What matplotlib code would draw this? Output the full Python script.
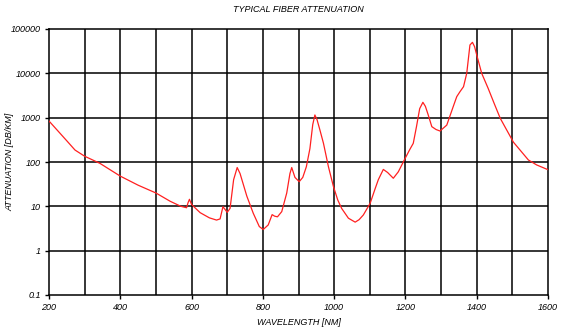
import matplotlib
matplotlib.use("Agg")
import matplotlib.pyplot as plt
from matplotlib.ticker import FixedLocator, FixedFormatter, NullLocator

title = "TYPICAL FIBER ATTENUATION"
xlabel = "WAVELENGTH [NM]"
ylabel = "ATTENUATION [DB/KM]"

wavelength = [200, 231, 250, 273, 300, 343, 400, 450, 500, 540, 570, 586, 590, 594, 600,
              624, 650, 670, 680, 688, 694, 700, 708, 718, 728, 736, 755, 773, 790, 801,
              815, 826, 833, 841, 853, 867, 876, 881, 890, 902, 912, 922, 932, 940, 946,
              952, 960, 970, 984, 998, 1010, 1021, 1040, 1059, 1070, 1082, 1101, 1115,
              1124, 1138, 1150, 1166, 1180, 1199, 1212, 1222, 1231, 1240, 1249, 1256,
              1264, 1274, 1286, 1297, 1316, 1334, 1344, 1353, 1363, 1372, 1381, 1388,
              1394, 1400, 1414, 1432, 1450, 1466, 1503, 1545, 1568, 1600]
attenuation = [840, 444, 300, 186, 135, 93, 48, 30, 20, 13, 10, 9.3, 12, 14.4, 11,
               7.2, 5.5, 4.9, 5.2, 9.8, 8.5, 7.3, 9, 40, 75, 55, 17, 7, 3.5, 3.0,
               3.8, 6.5, 6.0, 5.8, 7.6, 20, 55, 75, 45, 36, 45, 78, 200, 700, 1150,
               900, 530, 265, 78, 28, 14, 9.0, 5.4, 4.4, 5, 6.4, 11.7, 25,
               40, 68, 58, 43, 60, 120, 190, 264, 627, 1600, 2220, 1800,
               1150, 627, 540, 500, 680, 1770, 2980, 3850, 5000, 10000, 43600, 50000,
               40000, 26000, 10000, 4600, 2000, 968, 280, 111, 86, 67]

xticks = [200, 400, 600, 800, 1000, 1200, 1400, 1600]
xgrid = [300, 400, 500, 600, 700, 800, 900, 1000, 1100, 1200, 1300, 1400, 1500]
yticks = [0.1, 1, 10, 100, 1000, 10000, 100000]
ytick_labels = ["0.1", "1", "10", "100", "1000", "10000", "100000"]

plt.rcParams['font.family'] = ['Liberation Sans', 'DejaVu Sans']

fig = plt.figure(figsize=(5.64, 3.30), dpi=100)
ax = fig.add_axes([49/564, 1-295/330, (548-49)/564, (295-29)/330])

ax.set_yscale('log')
ax.set_xlim(200, 1600)
ax.set_ylim(0.1, 100000)

for xg in xgrid:
    ax.axvline(xg, color='black', lw=1.1, zorder=1)
for yg in yticks[1:-1]:
    ax.axhline(yg, color='black', lw=1.1, zorder=1)

ax.plot(wavelength, attenuation, color='#ff2020', lw=0.9, zorder=3)

ax.xaxis.set_major_locator(FixedLocator(xticks))
ax.xaxis.set_minor_locator(NullLocator())
ax.yaxis.set_major_locator(FixedLocator(yticks))
ax.yaxis.set_major_formatter(FixedFormatter(ytick_labels))
ax.yaxis.set_minor_locator(NullLocator())

ax.tick_params(axis='both', direction='out', length=3, width=1, labelsize=6.5,
               color='black', pad=3)
for lab in ax.get_xticklabels() + ax.get_yticklabels():
    lab.set_fontstyle('italic')

for s in ax.spines.values():
    s.set_linewidth(1.1)
    s.set_color('black')

ax.set_title(title, fontsize=6.5, fontstyle='italic', pad=12)
ax.set_xlabel(xlabel, fontsize=6.5, fontstyle='italic', labelpad=4)
fig.text(10/564, 1-162/330, ylabel, fontsize=6.5, fontstyle='italic',
         rotation=90, ha='center', va='center')

fig.savefig("out.png", dpi=100)
